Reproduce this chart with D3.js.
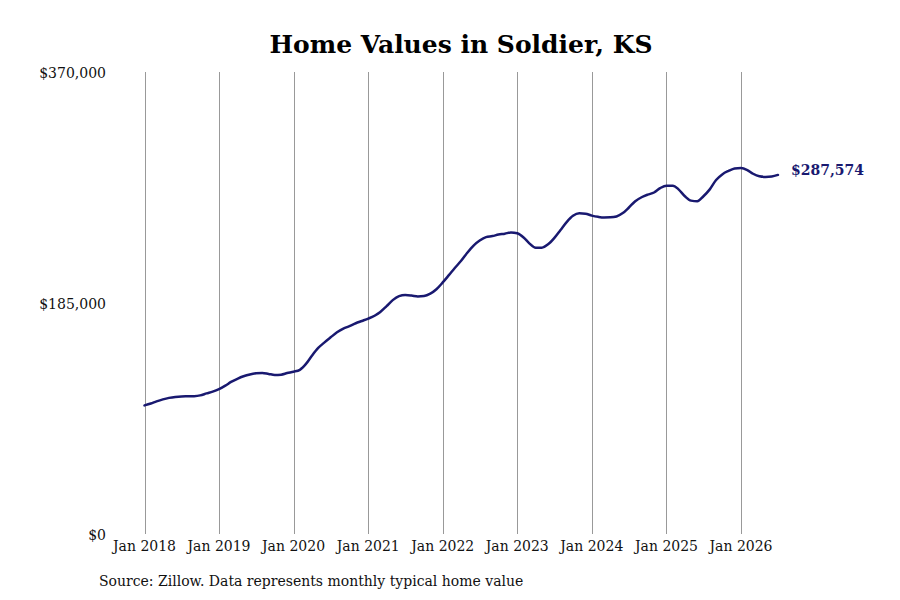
<!DOCTYPE html>
<html>
<head>
<meta charset="utf-8">
<script src="https://cdn.jsdelivr.net/npm/d3@7"></script>
<style>
  body { margin: 0; background: #fff; }
  svg text { font-family: "DejaVu Serif", serif; }
</style>
</head>
<body>
<div id="chart"></div>
<script>
// Typical home value by month, Jan 2018 .. Jul 2026.
var startYear = 2018;
var values2018 = [103000, 104500, 106200, 107800, 109000, 109800, 110200, 110300, 110400, 111000, 112600, 114000];
var values2019 = [116000, 118800, 121800, 124300, 126300, 127800, 128700, 129000, 128200, 127400, 127600, 128900];
var values2020 = [130000, 131500, 136000, 143000, 149000, 153500, 157500, 161500, 164500, 166500, 168800, 170600];
var values2021 = [172500, 174800, 177800, 182500, 187300, 190500, 191400, 191000, 190300, 190600, 192500, 196000];
var values2022 = [201500, 207500, 213000, 218800, 225200, 231000, 235000, 237800, 238600, 239800, 240500, 241500];
var values2023 = [240800, 237500, 232800, 229200, 229300, 232000, 237000, 243500, 250000, 254800, 256800, 256500];
var values2024 = [255000, 254000, 253500, 253600, 254300, 257000, 261500, 266500, 269700, 271800, 273500, 277000];
var values2025 = [279000, 279000, 276000, 270500, 267000, 266500, 270500, 276000, 283500, 288000, 290800, 292800];
var values2026 = [293200, 291500, 288500, 286500, 286000, 286300, 287574];

var yTicks = [0, 185000, 370000];
var xTickYears = [2018, 2019, 2020, 2021, 2022, 2023, 2024, 2025, 2026];

var values = [].concat(values2018, values2019, values2020, values2021, values2022,
                       values2023, values2024, values2025, values2026);
var data = values.map(function(v, i) {
  return { date: new Date(startYear, i, 1), value: v };
});

var width = 900, height = 600;
var margin = { top: 72, right: 121, bottom: 66, left: 144 };
var lineColor = "#191970";

var svg = d3.select("#chart").append("svg")
    .attr("width", width)
    .attr("height", height);

var x = d3.scaleTime()
    .domain([new Date(2018, 0, 1), new Date(2026, 0, 1)])
    .range([144.5, 741]);

var y = d3.scaleLinear()
    .domain([0, 370000])
    .range([height - margin.bottom, margin.top]);

// Title
svg.append("text")
    .attr("x", 461)
    .attr("y", 53)
    .attr("text-anchor", "middle")
    .style("font-size", "25px")
    .style("font-weight", "bold")
    .style("fill", "#000")
    .text("Home Values in Soldier, KS");

// Vertical grid lines, one per January
var xTicks = xTickYears.map(function(yr) { return new Date(yr, 0, 1); });
svg.append("g")
    .selectAll("line")
    .data(xTicks)
    .enter().append("line")
    .attr("x1", function(d) { return Math.round(x(d)) + 0.5; })
    .attr("x2", function(d) { return Math.round(x(d)) + 0.5; })
    .attr("y1", y(370000))
    .attr("y2", y(0))
    .style("stroke", "#999")
    .style("stroke-width", 1);

// X axis labels
var fmt = d3.timeFormat("%b %Y");
svg.append("g")
    .selectAll("text")
    .data(xTicks)
    .enter().append("text")
    .attr("x", function(d) { return x(d); })
    .attr("y", 551)
    .attr("text-anchor", "middle")
    .style("font-size", "14px")
    .style("fill", "#111")
    .text(function(d) { return fmt(d); });

// Y axis labels
var money = d3.format("$,.0f");
svg.append("g")
    .selectAll("text")
    .data(yTicks)
    .enter().append("text")
    .attr("x", 106)
    .attr("y", function(d) { return y(d); })
    .attr("dy", "0.4em")
    .attr("text-anchor", "end")
    .style("font-size", "14px")
    .style("fill", "#111")
    .text(function(d) { return money(d); });

// The line
var line = d3.line()
    .x(function(d) { return x(d.date); })
    .y(function(d) { return y(d.value); })
    .curve(d3.curveMonotoneX);

svg.append("path")
    .datum(data)
    .attr("d", line)
    .style("fill", "none")
    .style("stroke", lineColor)
    .style("stroke-width", 2.5)
    .style("stroke-linecap", "round");

// End label
var last = data[data.length - 1];
svg.append("text")
    .attr("x", x(last.date) + 13)
    .attr("y", y(last.value) - 5)
    .attr("dy", "0.35em")
    .style("font-size", "14px")
    .style("font-weight", "bold")
    .style("fill", lineColor)
    .text(money(last.value));

// Source note
svg.append("text")
    .attr("x", 99)
    .attr("y", 586)
    .style("font-size", "14px")
    .style("fill", "#111")
    .text("Source: Zillow. Data represents monthly typical home value");
</script>
</body>
</html>
